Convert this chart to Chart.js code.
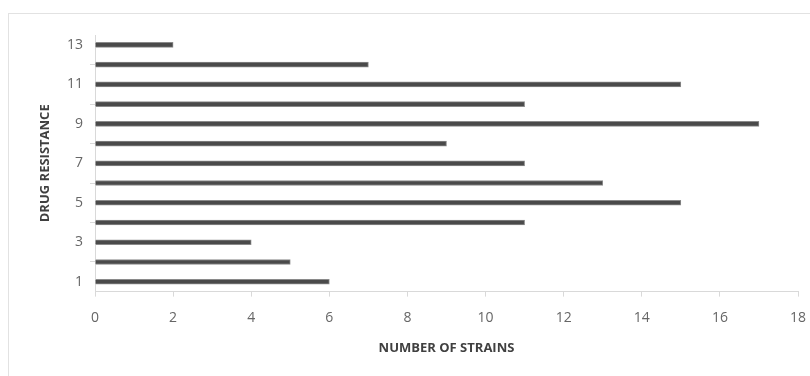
<!DOCTYPE html>
<html lang="en">
<head>
<meta charset="utf-8"/>
<title>Drug resistance</title>
<script src="https://cdn.jsdelivr.net/npm/chart.js"></script>
<style>
  html, body { margin: 0; padding: 0; background: #fff; }
  #wrap { width: 810px; height: 376px; position: relative; }
</style>
</head>
<body>
<div id="wrap"><canvas id="chart"></canvas></div>
<script>
const categories = ['1','2','3','4','5','6','7','8','9','10','11','12','13'];
const strains = [6, 5, 4, 11, 15, 13, 11, 9, 17, 11, 15, 7, 2];
const xTicks = { min: 0, max: 18, step: 2 };

// light frame round the chart (only top and left edges show in the picture)
const frame = {
  id: 'frame',
  beforeDraw(chart) {
    const c = chart.ctx;
    c.save();
    c.strokeStyle = '#e2e2e2';
    c.lineWidth = 1;
    c.strokeRect(8.5, 13.5, chart.width + 20, chart.height + 20);
    c.restore();
  }
};

const tickFont = { family: "'Open Sans', sans-serif", size: 14 };
const titleFont = { family: "'Open Sans', sans-serif", size: 13, weight: 'bold' };

new Chart(document.getElementById('chart'), {
  type: 'bar',
  data: {
    labels: categories,
    datasets: [{
      data: strains,
      backgroundColor: '#4a4a4a',
      borderColor: '#8a8a8a',
      borderWidth: { top: 1, bottom: 1, left: 0, right: 1 },
      barThickness: 5,
      borderSkipped: 'left'
    }]
  },
  options: {
    indexAxis: 'y',
    responsive: true,
    maintainAspectRatio: false,
    animation: false,
    layout: { padding: { left: 37, right: 12, top: 35, bottom: 20 } },
    plugins: { legend: { display: false }, tooltip: { enabled: false } },
    scales: {
      y: {
        reverse: true,
        afterFit(s) { s.width = 58; s.paddingTop = 0; s.paddingBottom = 0; },
        border: { color: '#d9d9d9' },
        grid: { drawOnChartArea: false, color: '#d9d9d9', tickLength: 5 },
        ticks: {
          color: '#666',
          font: tickFont,
          padding: 7,
          callback(v, i) { return i % 2 === 0 ? categories[i] : ''; }
        },
        title: { display: true, text: 'DRUG RESISTANCE', color: '#404040', font: titleFont, padding: { top: 0, bottom: 0 } }
      },
      x: {
        min: xTicks.min,
        max: xTicks.max,
        afterFit(s) { s.paddingLeft = 0; s.paddingRight = 0; },
        border: { color: '#d9d9d9' },
        grid: { drawOnChartArea: false, color: '#d9d9d9', tickLength: 5 },
        ticks: { stepSize: xTicks.step, color: '#666', font: tickFont, padding: 13 },
        title: { display: true, text: 'NUMBER OF STRAINS', color: '#404040', font: titleFont, padding: { top: 1, bottom: 0 } }
      }
    }
  },
  plugins: [frame]
});
</script>
</body>
</html>
